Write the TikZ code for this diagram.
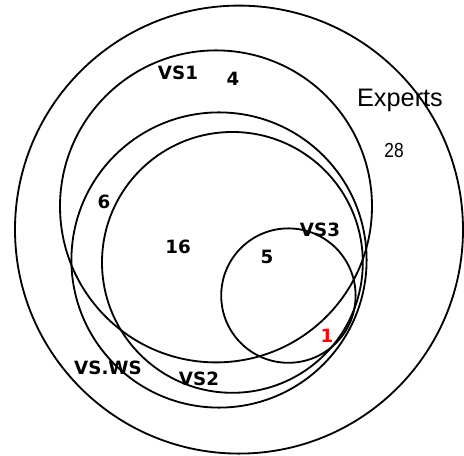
\documentclass[tikz,border=0pt]{standalone}
\usepackage{fontspec}
\newfontfamily\labelfont{DejaVu Sans}
\newfontfamily\countfont{Liberation Sans}
\begin{document}
\begin{tikzpicture}[set/.style={line width=1.3pt},
    lbl/.style={font=\labelfont\bfseries\fontsize{13}{15}\selectfont, inner sep=0pt}]
\useasboundingbox (0,0) rectangle (11.6,11.4);
\draw[set] (5.975,5.66) circle [radius=5.6];
\draw[set] (5.4,6.24) circle [radius=3.9];
\draw[set] (5.475,4.9) circle [radius=3.69];
\draw[set] (5.81,4.84) circle [radius=3.26];
\draw[set] (7.21,4.01) circle [radius=1.68];
\node[font=\countfont\fontsize{18}{20}\selectfont, inner sep=0pt] (experts) at (10.0,8.9) {Experts};
\node[font=\countfont\fontsize{14.5}{16}\selectfont, inner sep=0pt, xscale=0.85] (n28) at (9.85,7.65) {28};
\node[lbl] (vs1) at (4.45,9.575) {VS1};
\node[lbl] (n4) at (5.825,9.425) {4};
\node[lbl] (n6) at (2.6,6.35) {6};
\node[lbl] (n16) at (4.45,5.225) {16};
\node[lbl] (vs3) at (8.0,5.65) {VS3};
\node[lbl] (n5) at (6.675,4.975) {5};
\node[lbl, red] (n1) at (8.175,3.0) {1};
\node[lbl] (vsws) at (2.7,2.2) {VS.WS};
\node[lbl] (vs2) at (4.975,1.925) {VS2};
\end{tikzpicture}
\end{document}
